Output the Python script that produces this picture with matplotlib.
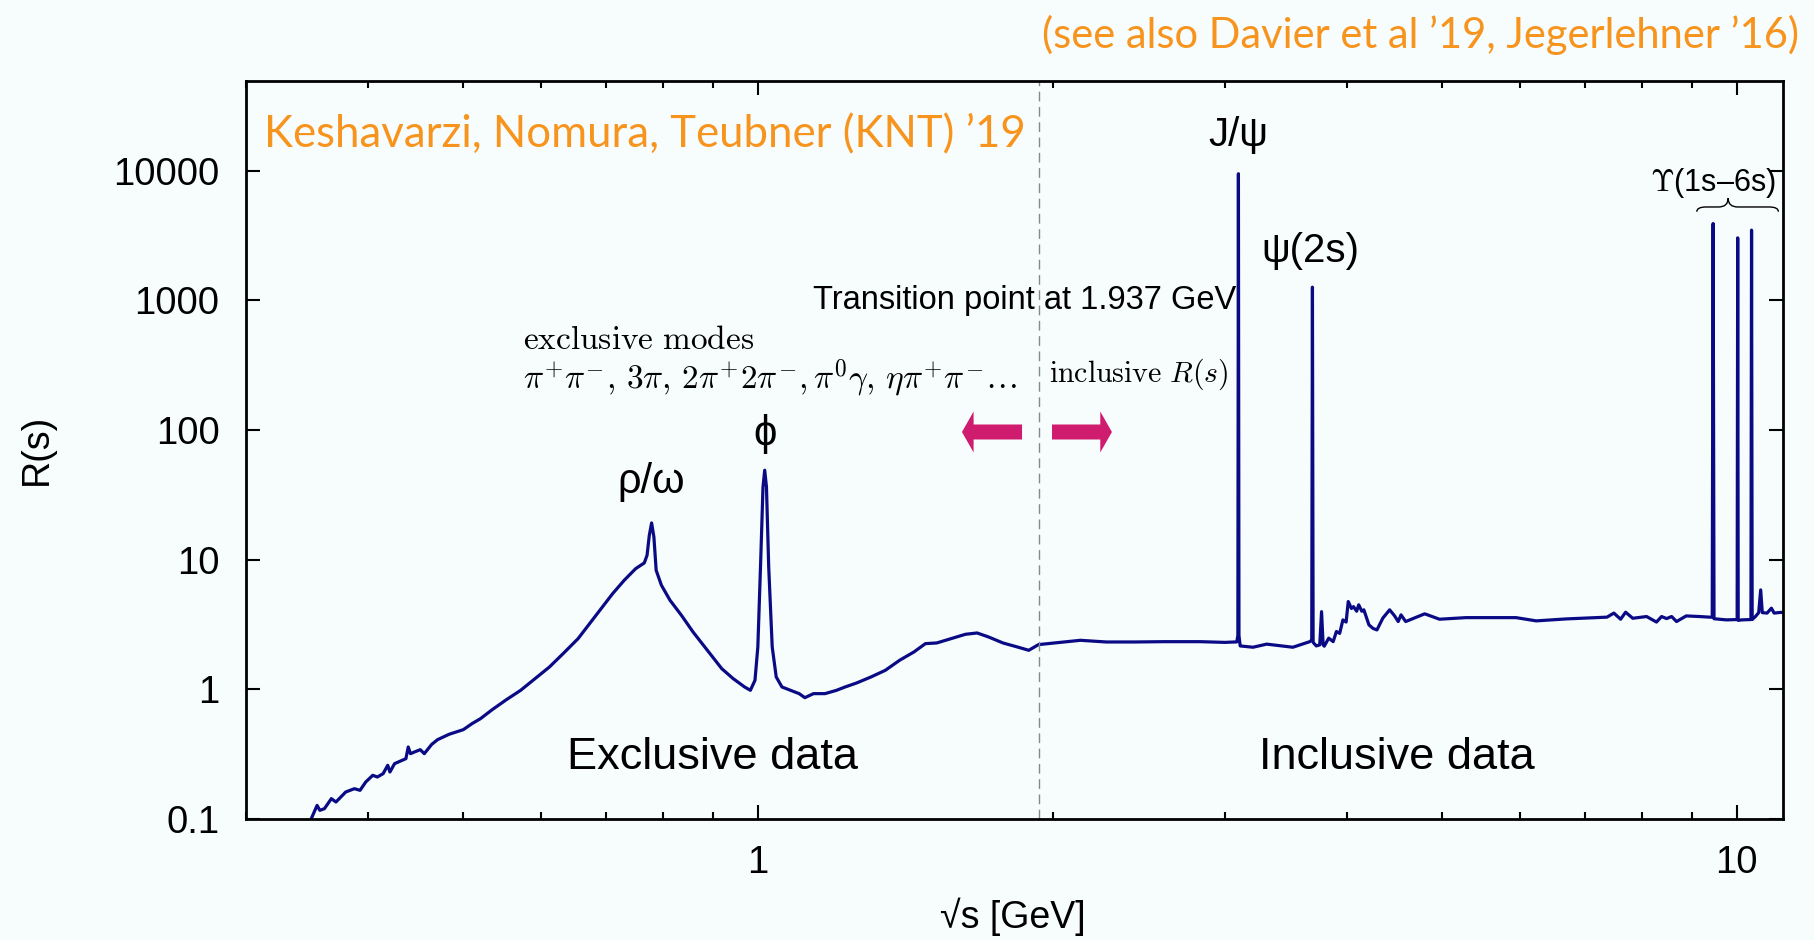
import matplotlib
matplotlib.use("Agg")
import matplotlib.pyplot as plt
from matplotlib.patches import FancyArrowPatch, PathPatch
from matplotlib.path import Path

plt.rcParams['font.family'] = ['Liberation Sans', 'DejaVu Sans']
plt.rcParams['mathtext.fontset'] = 'cm'

# sqrt(s) in GeV and R(s)
sqrt_s = [
    0.3498, 0.3546, 0.3569, 0.3608, 0.3667, 0.3707, 0.3793, 0.3871, 0.3923, 0.3976,
    0.4042, 0.4086, 0.4142, 0.4187, 0.4209, 0.4255, 0.4370, 0.4394, 0.4417, 0.4459,
    0.4520, 0.4563, 0.4644, 0.4708, 0.4836, 0.5002, 0.5105, 0.5208, 0.5354, 0.5536,
    0.5724, 0.5922, 0.6125, 0.6335, 0.6552, 0.6733, 0.6917, 0.7107, 0.7303, 0.7503,
    0.7656, 0.7706, 0.7747, 0.7789, 0.7831, 0.7873, 0.7971, 0.8134, 0.8355, 0.8586,
    0.8880, 0.9186, 0.9436, 0.9694, 0.9826, 0.9933, 1.0000, 1.0068, 1.0122, 1.0163,
    1.0205, 1.0259, 1.0344, 1.0442, 1.0584, 1.0800, 1.1020, 1.1170, 1.1399, 1.1711,
    1.2032, 1.2278, 1.2615, 1.3050, 1.3497, 1.3958, 1.4437, 1.4832, 1.5232, 1.5756,
    1.6298, 1.6749, 1.7207, 1.7799, 1.8409, 1.8915, 1.9350, 2.0101, 2.1354, 2.2699,
    2.4284, 2.6000, 2.8280, 3.0000, 3.0850, 3.0930, 3.0970, 3.1010, 3.1100, 3.2050,
    3.3100, 3.5200, 3.6630, 3.6800, 3.6860, 3.6920, 3.7200, 3.7500, 3.7660, 3.7800,
    3.7900, 3.8300, 3.8700, 3.9000, 3.9300, 3.9600, 3.9900, 4.0100, 4.0400, 4.0600,
    4.0900, 4.1100, 4.1400, 4.1600, 4.1900, 4.2100, 4.2500, 4.2900, 4.3500, 4.4200,
    4.4700, 4.5100, 4.5400, 4.5900, 4.8000, 4.9700, 5.2900, 5.9500, 6.2400, 6.7000,
    7.3700, 7.4900, 7.6100, 7.7000, 7.8300, 8.0900, 8.2800, 8.3800, 8.4800, 8.5800,
    8.6800, 8.8800, 9.1600, 9.3800, 9.4400, 9.4600, 9.4800, 9.7600, 10.010, 10.023,
    10.035, 10.120, 10.340, 10.355, 10.370, 10.450, 10.530, 10.580, 10.620, 10.740,
    10.850, 10.920, 11.100, 11.150,
]
r_ratio = [
    0.1006, 0.1274, 0.1166, 0.1202, 0.1435, 0.1352, 0.1615, 0.1713, 0.1664, 0.1929,
    0.2172, 0.2108, 0.2237, 0.2594, 0.2304, 0.2672, 0.2919, 0.3592, 0.3190, 0.3287,
    0.3424, 0.3190, 0.3765, 0.4090, 0.4497, 0.4886, 0.5435, 0.5938, 0.6970, 0.8324,
    0.9824, 1.209, 1.486, 1.906, 2.459, 3.209, 4.189, 5.468, 6.928, 8.523,
    9.425, 10.80, 15.40, 19.18, 14.96, 8.27, 6.341, 4.857, 3.721, 2.768,
    1.999, 1.443, 1.209, 1.042, 0.9824, 1.173, 2.121, 9.88, 36.3, 48.9,
    36.3, 8.78, 2.121, 1.245, 1.042, 0.982, 0.926, 0.862, 0.926, 0.926,
    0.982, 1.042, 1.119, 1.245, 1.401, 1.674, 1.941, 2.250, 2.277, 2.459,
    2.656, 2.719, 2.532, 2.277, 2.121, 1.999, 2.211, 2.277, 2.387, 2.317,
    2.317, 2.33, 2.33, 2.30, 2.32, 2.6, 9440, 2.6, 2.16, 2.11,
    2.23, 2.11, 2.33, 2.4, 1260, 2.3, 2.16, 2.2, 3.97, 2.2,
    2.15, 2.48, 2.33, 2.79, 2.7, 3.43, 3.3, 4.75, 4.2, 4.34,
    4.0, 4.48, 4.0, 4.10, 3.5, 3.14, 2.95, 2.87, 3.54, 4.10,
    3.7, 3.33, 3.75, 3.33, 3.82, 3.47, 3.57, 3.57, 3.37, 3.49,
    3.60, 3.87, 3.47, 3.93, 3.53, 3.64, 3.30, 3.64, 3.51, 3.64,
    3.33, 3.68, 3.64, 3.60, 3.6, 3900, 3.5, 3.43, 3.45, 3025,
    3.4, 3.43, 3.45, 3470, 3.45, 3.64, 3.9, 5.84, 3.9, 3.87,
    4.22, 3.87, 3.92, 3.9,
]

x_ticks = [1, 10]
x_ticklabels = ['1', '10']
y_ticks = [0.1, 1, 10, 100, 1000, 10000]
y_ticklabels = ['0.1', '1', '10', '100', '1000', '10000']
transition = 1.937

bg = '#f7fcfd'
orange = '#f7941d'
magenta = '#d01c6e'

fig = plt.figure(figsize=(18.14, 9.4), dpi=100, facecolor=bg)
ax = fig.add_axes([0.13561, 0.12872, 0.84730, 0.78511], facecolor=bg)

ax.plot(sqrt_s, r_ratio, color='#0a0a85', lw=2.3)
ax.axvline(transition, color='#888888', lw=1.0, ls=(0, (7, 4)))

ax.set_xscale('log')
ax.set_yscale('log')
ax.set_xlim(0.3, 11.15)
ax.set_ylim(0.1, 4.9e4)
ax.set_xticks(x_ticks)
ax.set_xticklabels(x_ticklabels)
ax.set_yticks(y_ticks)
ax.set_yticklabels(y_ticklabels)
ax.yaxis.set_minor_locator(matplotlib.ticker.NullLocator())
ax.xaxis.set_minor_formatter(matplotlib.ticker.NullFormatter())
ax.tick_params(which='both', direction='in', top=True, right=True, width=1.5,
               labelsize=27.5, pad=19)
ax.tick_params(which='major', length=10)
ax.tick_params(which='minor', length=5)
for sp in ax.spines.values():
    sp.set_linewidth(2.0)

fig.text(0.5584, 0.0245, '√s [GeV]', fontsize=27, ha='center', va='center')
fig.text(0.0204, 0.5223, 'R(s)', fontsize=27, ha='center', va='center', rotation=90)

fig.text(0.9917, 0.9628, '(see also Davier et al ’19, Jegerlehner ’16)',
         fontsize=30, color=orange, family=['Lato', 'DejaVu Sans'], ha='right', va='center')
ax.text(0.0117, 0.9268, 'Keshavarzi, Nomura, Teubner (KNT) ’19', fontsize=31.5,
        color=orange, family=['Lato', 'DejaVu Sans'], ha='left', va='center',
        transform=ax.transAxes)

ax.text(0.6454, 0.9268, 'J/ψ', fontsize=29, ha='center', va='center', transform=ax.transAxes)
ax.text(0.6923, 0.7696, 'ψ(2s)', fontsize=29, ha='center', va='center', transform=ax.transAxes)
ax.text(0.2635, 0.4566, 'ρ/ω', fontsize=30, ha='center', va='center', transform=ax.transAxes)
ax.text(0.3377, 0.5217, 'ϕ', fontsize=30, ha='center', va='center', transform=ax.transAxes)
ax.text(0.9545, 0.8618, r'$\Upsilon$(1s–6s)', fontsize=22, ha='center', va='center',
        transform=ax.transAxes)

ax.text(0.3689, 0.7019, 'Transition point at 1.937 GeV', fontsize=23.5, ha='left',
        va='center', transform=ax.transAxes)
ax.text(0.1802, 0.6477, r'$\mathrm{exclusive\ modes}$', fontsize=24, ha='left',
        va='center', transform=ax.transAxes)
ax.text(0.1802, 0.5976,
        r'$\pi^{+}\pi^{-},\,3\pi,\,2\pi^{+}2\pi^{-},\pi^{0}\gamma,\,\eta\pi^{+}\pi^{-}\ldots$',
        fontsize=24, ha='left', va='center', transform=ax.transAxes)
ax.text(0.5224, 0.6030, r'$\mathrm{inclusive}\ R(s)$', fontsize=21.5, ha='left',
        va='center', transform=ax.transAxes)

ax.text(0.3038, 0.0827, 'Exclusive data', fontsize=32.5, ha='center', va='center',
        transform=ax.transAxes)
ax.text(0.7489, 0.0827, 'Inclusive data', fontsize=32.5, ha='center', va='center',
        transform=ax.transAxes)

# arrows either side of the transition point
arrow_style = 'simple,head_length=8.4,head_width=29.5,tail_width=10.8'
ax.add_patch(FancyArrowPatch((0.5049, 0.5244), (0.4658, 0.5244), arrowstyle=arrow_style,
                             mutation_scale=1, color=magenta, lw=0, shrinkA=0, shrinkB=0,
                             transform=ax.transAxes))
ax.add_patch(FancyArrowPatch((0.5244, 0.5244), (0.5634, 0.5244), arrowstyle=arrow_style,
                             mutation_scale=1, color=magenta, lw=0, shrinkA=0, shrinkB=0,
                             transform=ax.transAxes))

# brace over the Upsilon resonances
brace = Path(
    [(0.9439, 0.8229), (0.9439, 0.8293), (0.9500, 0.8293), (0.9580, 0.8293),
     (0.9643, 0.8293), (0.9643, 0.8411), (0.9643, 0.8293), (0.9706, 0.8293),
     (0.9910, 0.8293), (0.9970, 0.8293), (0.9970, 0.8229)],
    [Path.MOVETO, Path.CURVE3, Path.CURVE3, Path.LINETO, Path.CURVE3, Path.CURVE3,
     Path.CURVE3, Path.CURVE3, Path.LINETO, Path.CURVE3, Path.CURVE3])
ax.add_patch(PathPatch(brace, fill=False, lw=1.0, color='black', transform=ax.transAxes,
                       clip_on=False))

fig.savefig('out.png', dpi=100, facecolor=bg)
